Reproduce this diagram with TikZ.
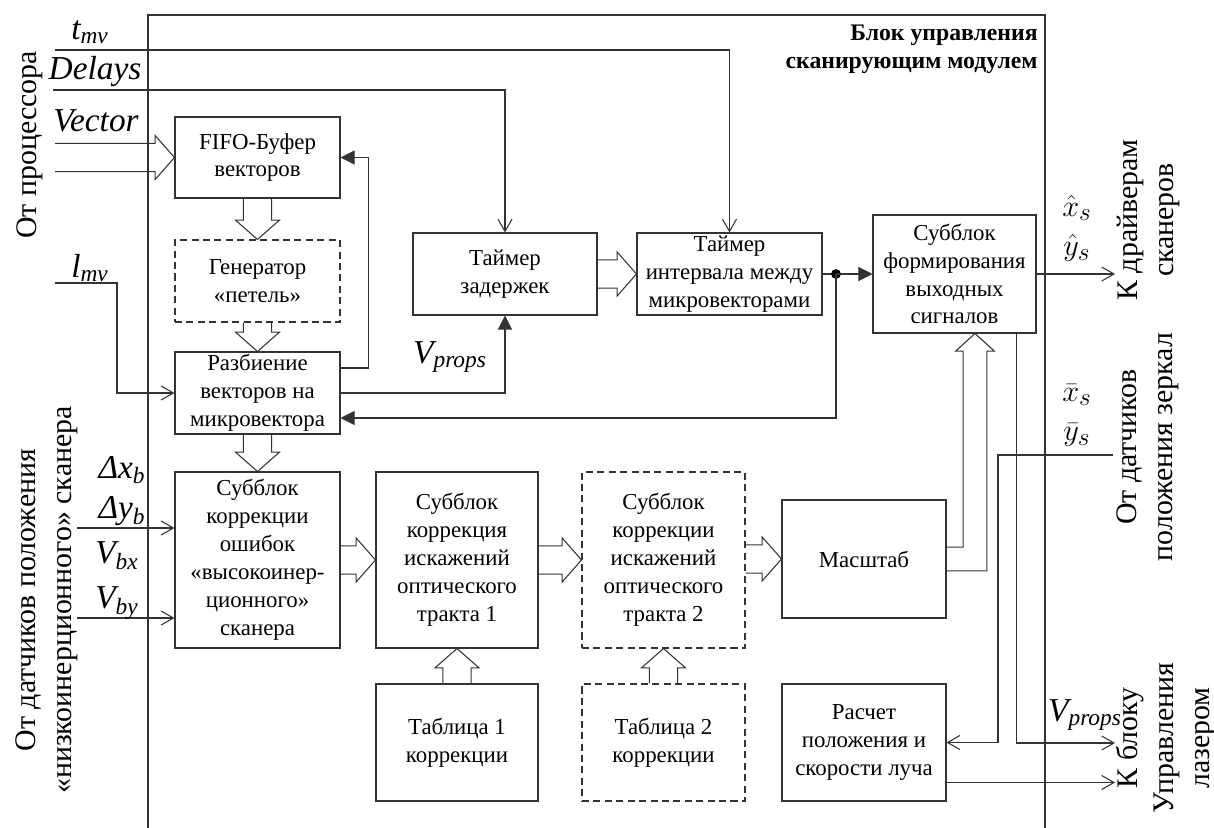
\documentclass[tikz,border=0pt]{standalone}
\usepackage{fontspec}
\setmainfont{Liberation Serif}
\newfontfamily\diagserif{Liberation Serif}
\usetikzlibrary{arrows.meta,calc}

\newcommand\boxfont{\diagserif\fontsize{13}{15.9}\selectfont}
\newcommand\sidefont{\diagserif\fontsize{17}{20.5}\selectfont}
\newcommand\lblfont{\diagserif\fontsize{19}{22}\selectfont\itshape}
\newcommand\sig[2]{#1\textsubscript{#2}}

% sizes of the outline (bus) arrows
\newcommand\shaftw{8pt}
\newcommand\headw{12.5pt}
\newcommand\headl{11pt}

% outline arrow pointing right, from #1 to the tip #2
\newcommand\hollowRight[2]{\draw[hollow] let \p1=#1, \p2=#2 in
  (\x1,\y2+\shaftw) -- (\x2-\headl,\y2+\shaftw) -- (\x2-\headl,\y2+\headw) -- (\x2,\y2)
  -- (\x2-\headl,\y2-\headw) -- (\x2-\headl,\y2-\shaftw) -- (\x1,\y2-\shaftw);}
% outline arrow pointing down
\newcommand\hollowDown[2]{\draw[hollow] let \p1=#1, \p2=#2 in
  (\x2-\shaftw,\y1) -- (\x2-\shaftw,\y2+\headl) -- (\x2-\headw,\y2+\headl) -- (\x2,\y2)
  -- (\x2+\headw,\y2+\headl) -- (\x2+\shaftw,\y2+\headl) -- (\x2+\shaftw,\y1);}
% outline arrow pointing up
\newcommand\hollowUp[2]{\draw[hollow] let \p1=#1, \p2=#2 in
  (\x2-\shaftw,\y1) -- (\x2-\shaftw,\y2-\headl) -- (\x2-\headw,\y2-\headl) -- (\x2,\y2)
  -- (\x2+\headw,\y2-\headl) -- (\x2+\shaftw,\y2-\headl) -- (\x2+\shaftw,\y1);}

\tikzset{
  ln/.style={line width=0.6pt, draw=black!80},
  box/.style={ln, rectangle, align=center, inner sep=0pt, font=\boxfont},
  dbox/.style={box, dash pattern=on 4pt off 2.5pt},
  oarrow/.style={ln, -{Straight Barb[length=7pt,width=8pt]}},
  farrow/.style={ln, -{Triangle[length=8pt,width=8pt]}},
  hollow/.style={ln, line join=miter},
  side/.style={rotate=90, align=center, font=\sidefont},
  lbl/.style={font=\lblfont, inner sep=0pt},
}

\begin{document}
\begin{tikzpicture}[x=0.02cm, y=-0.02cm, font=\diagserif]
\useasboundingbox (0,0) rectangle (1214,828);

% outer frame of the control block
\draw[ln] (148,830) -- (148,15) -- (1045,15) -- (1045,830);
\node[anchor=north east, align=right, font=\diagserif\bfseries\fontsize{13.5}{15.5}\selectfont, inner sep=0pt]
  (title) at (1038,25) {Блок управления\\сканирующим модулем};

% blocks
\node[box, minimum width=3.3cm, minimum height=1.62cm] (fifo) at (257.5,157.5) {FIFO-Буфер\\векторов};
\node[dbox, minimum width=3.3cm, minimum height=1.64cm] (gen) at (257.5,281) {Генератор\\«петель»};
\node[box, minimum width=3.3cm, minimum height=1.64cm] (razb) at (257.5,393) {Разбиение\\векторов на\\микровектора};
\node[box, minimum width=3.68cm, minimum height=1.64cm] (t1) at (505,274) {Таймер\\задержек};
\node[box, minimum width=3.7cm, minimum height=1.64cm] (t2) at (729.5,274) {Таймер\\интервала между\\микровекторами};
\node[box, minimum width=3.26cm, minimum height=2.36cm] (out) at (954.5,274) {Субблок\\формирования\\выходных\\сигналов};
\node[box, minimum width=3.3cm, minimum height=3.52cm] (corr) at (257.5,560) {Субблок\\коррекции\\ошибок\\«высокоинер-\\ционного»\\сканера};
\node[box, minimum width=3.24cm, minimum height=3.52cm] (opt1) at (457,560) {Субблок\\коррекция\\искажений\\оптического\\тракта 1};
\node[dbox, minimum width=3.26cm, minimum height=3.52cm] (opt2) at (663.5,560) {Субблок\\коррекции\\искажений\\оптического\\тракта 2};
\node[box, minimum width=3.28cm, minimum height=2.36cm] (scale) at (864,559) {Масштаб};
\node[box, minimum width=3.24cm, minimum height=2.34cm] (tab1) at (457,742.5) {Таблица 1\\коррекции};
\node[dbox, minimum width=3.26cm, minimum height=2.34cm] (tab2) at (663.5,742.5) {Таблица 2\\коррекции};
\node[box, minimum width=3.28cm, minimum height=2.34cm] (calc) at (864,742.5) {Расчет\\положения и\\скорости луча};

% free ends of the external signals
\coordinate (tmvin) at (55,50);
\coordinate (delin) at (53,90);
\coordinate (vecin) at (55,157.5);
\coordinate (lmvin) at (55,283);
\coordinate (dyin) at (77,528);
\coordinate (vbyin) at (77,618);
\coordinate (drv) at (1115,274);
\coordinate (sens) at (1113,455);
\coordinate (las1) at (1115,743);
\coordinate (las2) at (1115,782.5);
\coordinate (jn) at (836,274);

% bus arrows
\hollowRight{(vecin)}{(fifo.west)}
\hollowDown{(fifo.south)}{(gen.north)}
\hollowDown{(gen.south)}{(razb.north)}
\hollowDown{(razb.south)}{(corr.north)}
\hollowRight{(t1.east)}{(t2.west)}
\hollowRight{(corr.east)}{(opt1.west)}
\hollowRight{(opt1.east)}{(opt2.west)}
\hollowRight{(opt2.east)}{(scale.west)}
\hollowUp{(tab1.north)}{(opt1.south)}
\hollowUp{(tab2.north)}{(opt2.south)}
\draw[hollow] let \p1=(scale.east), \p2=(out.south), \p3=($(out.south)+(20.5,0)$) in
  (\x1,\y1+6.8pt) -- (\x3-6.8pt,\y1+6.8pt) -- (\x3-6.8pt,\y2-10pt) -- (\x3-11pt,\y2-10pt)
  -- (\x3,\y2) -- (\x3+11pt,\y2-10pt) -- (\x3+6.8pt,\y2-10pt) -- (\x3+6.8pt,\y1-6.8pt)
  -- (\x1,\y1-6.8pt);

% signal lines
\draw[oarrow] (tmvin) -| (t2.north);
\draw[oarrow] (delin) -| (t1.north);
\draw[oarrow] (lmvin) -- ++(62,0) |- (razb.west);
\draw[oarrow] (dyin) -- (dyin -| corr.west);
\draw[oarrow] (vbyin) -- (vbyin -| corr.west);
\draw[farrow] ($(razb.east)+(0,-25)$) -- ++(28,0) |- (fifo.east);
\draw[farrow] (razb.east) -| (t1.south);
\draw[ln] (t2.east) -- (jn);
\fill[black] (jn) circle (2.8pt);
\draw[farrow] (jn) -- (out.west);
\draw[farrow] (jn) |- ($(razb.east)+(0,25)$);
\draw[oarrow] (out.east) -- (drv);
\draw[oarrow] ($(out.south east)+(-20,0)$) |- (las1);
\draw[oarrow] (sens) -- ++(-115,0) |- (calc.east);
\draw[oarrow] ($(calc.east)+(0,40)$) -- (las2);

% signal names
\node[lbl] (ltmv) at (90,32) {\sig{t}{mv}};
\node[lbl] (ldel) at (95,72) {Delays};
\node[lbl] (lvec) at (96,121) {Vector};
\node[lbl] (llmv) at (90,268) {\sig{l}{mv}};
\node[lbl] (ldx) at (122,470) {\sig{Δx}{b}};
\node[lbl] (ldy) at (122,511) {\sig{Δy}{b}};
\node[lbl] (lvbx) at (117,556) {\sig{V}{bx}};
\node[lbl] (lvby) at (117,603) {\sig{V}{by}};
\node[lbl] (lvp1) at (450,357) {\sig{V}{props}};
\node[lbl] (lvp2) at (1085,715) {\sig{V}{props}};
\node[lbl] (lxh) at (1077,208) {$\hat{x}_s$};
\node[lbl] (lyh) at (1077,248) {$\hat{y}_s$};
\node[lbl] (lxb) at (1077,395) {$\bar{x}_s$};
\node[lbl] (lyb) at (1077,435) {$\bar{y}_s$};

% external sources and receivers
\node[side] (src1) at (30,145) {От процессора};
\node[side] (src2) at (47,600) {От датчиков положения\\«низкоинерционного» сканера};
\node[side] (dst1) at (1148,220) {К драйверам\\сканеров};
\node[side] (src3) at (1148,447) {От датчиков\\положения зеркал};
\node[side] (dst2) at (1166,738) {К блоку\\Управления\\лазером};
\end{tikzpicture}
\end{document}
